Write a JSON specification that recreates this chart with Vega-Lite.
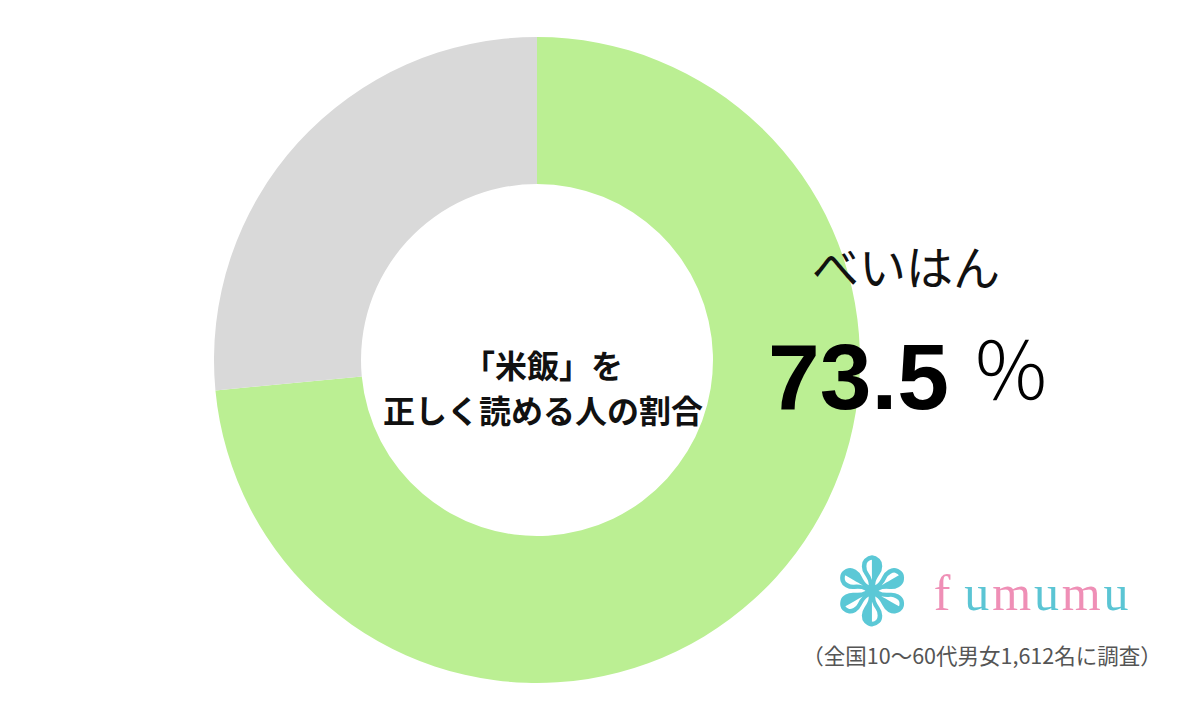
{
  "$schema": "https://vega.github.io/schema/vega-lite/v6.json",
  "autosize": "none",
  "width": 1074,
  "height": 706,
  "padding": {"left": 0, "top": 7, "right": 126, "bottom": 0},
  "background": "#ffffff",
  "config": {"view": {"stroke": null}},
  "data": {"values": [
    {"cat": "べいはん", "value": 73.5, "rank": 1},
    {"cat": "その他", "value": 26.5, "rank": 2}
  ]},
  "layer": [
    {
      "mark": {"type": "arc", "outerRadius": 323, "innerRadius": 176, "stroke": null},
      "encoding": {
        "theta": {"field": "value", "type": "quantitative", "stack": true},
        "order": {"field": "rank", "type": "quantitative"},
        "color": {"field": "cat", "type": "nominal", "legend": null,
          "scale": {"domain": ["べいはん", "その他"], "range": ["#bbef93", "#d9d9d9"]}}
      }
    },
    {
      "data": {"values": [{"note": "「米飯」を\n正しく読める人の割合"}]},
      "mark": {"type": "text", "x": 543, "y": 361, "align": "center", "baseline": "middle",
        "lineBreak": "\n", "lineHeight": 45,
        "font": "Noto Sans CJK JP", "fontWeight": "bold", "fontSize": 32, "color": "#111111"},
      "encoding": {"text": {"field": "note"}}
    },
    {
      "transform": [{"filter": "datum.rank == 1"}],
      "mark": {"type": "text", "x": 906, "y": 264, "align": "center", "baseline": "middle",
        "font": "Noto Sans CJK JP", "fontWeight": "normal", "fontSize": 47, "color": "#111111"},
      "encoding": {"text": {"field": "cat"}}
    },
    {
      "transform": [{"filter": "datum.rank == 1"}],
      "mark": {"type": "text", "x": 768, "y": 402, "align": "left", "baseline": "alphabetic",
        "font": "Liberation Sans", "fontWeight": "bold", "fontSize": 93, "color": "#000000"},
      "encoding": {"text": {"field": "value", "type": "quantitative", "format": ".1f"}}
    },
    {
      "data": {"values": [{"sym": "％"}]},
      "mark": {"type": "text", "x": 1011, "y": 369, "align": "center", "baseline": "middle",
        "font": "Noto Sans CJK JP", "fontWeight": 300, "fontSize": 80, "color": "#000000"},
      "encoding": {"text": {"field": "sym"}}
    },
    {
      "data": {"values": [{"sym": "❃"}]},
      "mark": {"type": "text", "x": 872, "y": 590, "align": "center", "baseline": "middle",
        "font": "DejaVu Sans", "fontSize": 94, "color": "#5bc8d6"},
      "encoding": {"text": {"field": "sym"}}
    },
    {
      "data": {"values": [
        {"ch": "f", "idx": 1}, {"ch": "u", "idx": 2}, {"ch": "m", "idx": 3},
        {"ch": "u", "idx": 4}, {"ch": "m", "idx": 5}, {"ch": "u", "idx": 6}
      ]},
      "mark": {"type": "text", "y": 603, "align": "center", "baseline": "alphabetic",
        "font": "Liberation Serif", "fontSize": 50},
      "encoding": {
        "x": {"field": "idx", "type": "ordinal", "axis": null,
          "scale": {"type": "point", "range": [942, 1116], "padding": 0}},
        "text": {"field": "ch"},
        "color": {"field": "ch", "type": "nominal", "legend": null,
          "scale": {"domain": ["f", "m", "u"], "range": ["#ef8fb6", "#ef8fb6", "#5bc5d4"]}}
      }
    },
    {
      "data": {"values": [{"note": "（全国10～60代男女1,612名に調査）"}]},
      "mark": {"type": "text", "x": 982, "y": 651, "align": "center", "baseline": "middle",
        "font": "Noto Sans CJK JP", "fontSize": 21.5, "color": "#555555"},
      "encoding": {"text": {"field": "note"}}
    }
  ],
  "resolve": {"scale": {"color": "independent"}}
}
